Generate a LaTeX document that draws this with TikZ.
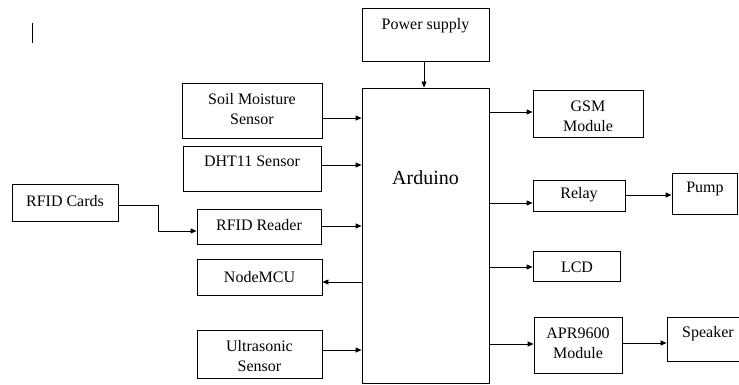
\documentclass[tikz,border=0pt]{standalone}
\usepackage{fontspec}
\setmainfont{Liberation Serif}
\usetikzlibrary{arrows.meta}
\begin{document}
\begin{tikzpicture}[x=1pt,y=-1pt,
  box/.style={draw, line width=0.8pt, inner sep=0pt},
  txt/.style={font=\fontsize{16}{20}\selectfont, align=center, inner sep=0pt},
  arr/.style={draw, line width=0.8pt, -{Triangle[length=6pt,width=5pt]}}]
\useasboundingbox (0,0) rectangle (739,385);
% boxes
\node[box, minimum width=127pt, minimum height=53pt]  (ps)     at (425.5,34.5) {};
\node[box, minimum width=127pt, minimum height=295pt] (ard)    at (425.5,235.5) {};
\node[box, minimum width=140pt, minimum height=55pt]  (soil)   at (252,110.5) {};
\node[box, minimum width=138pt, minimum height=45pt]  (dht)    at (252,168.5) {};
\node[box, minimum width=106pt, minimum height=37pt]  (cards)  at (65,202.5) {};
\node[box, minimum width=124pt, minimum height=35pt]  (reader) at (259,226.5) {};
\node[box, minimum width=125pt, minimum height=36pt]  (nmcu)   at (259.5,277) {};
\node[box, minimum width=125pt, minimum height=48pt]  (ultra)  at (259.5,354) {};
\node[box, minimum width=110pt, minimum height=47pt]  (gsm)    at (588,113.5) {};
\node[box, minimum width=92pt,  minimum height=31pt]  (relay)  at (579,195.5) {};
\node[box, minimum width=65pt,  minimum height=41pt]  (pump)   at (704.5,193.5) {};
\node[box, minimum width=87pt,  minimum height=30pt]  (lcd)    at (576.5,266) {};
\node[box, minimum width=88pt,  minimum height=56pt]  (apr)    at (578,345) {};
\node[box, minimum width=74pt,  minimum height=44pt]  (spk)    at (704,339) {};
% texts
\node[txt] (tps)     at (425.5,26) {Power supply};
\node[txt, font=\fontsize{20}{24}\selectfont] (tard) at (425.5,178) {Arduino};
\node[txt] (tsoil)   at (252,109) {Soil Moisture\\Sensor};
\node[txt] (tdht)    at (252,161) {DHT11 Sensor};
\node[txt] (tcards)  at (65,201) {RFID Cards};
\node[txt] (treader) at (259,225) {RFID Reader};
\node[txt] (tnmcu)   at (259.5,277) {NodeMCU};
\node[txt] (tultra)  at (259.5,356) {Ultrasonic\\Sensor};
\node[txt] (tgsm)    at (588,116) {GSM\\Module};
\node[txt] (trelay)  at (579,195) {Relay};
\node[txt] (tpump)   at (705,189) {Pump};
\node[txt] (tlcd)    at (577,267) {LCD};
\node[txt] (tapr)    at (578,343) {APR9600\\Module};
\node[txt] (tspk)    at (708,334) {Speaker};
% cursor mark
\coordinate (c1) at (32,23);
\coordinate (c2) at (32,43);
\draw[line width=0.8pt] (c1) -- (c2);
% connectors
\draw[arr] (ps.south -| 424,0) -- (ard.north -| 424,0);
\draw[arr] (soil.east |- 0,118) -- (ard.west |- 0,118);
\draw[arr] (dht.east |- 0,165) -- (ard.west |- 0,165);
\draw[arr] (reader.east |- 0,226) -- (ard.west |- 0,226);
\draw[arr] (ard.west |- 0,282) -- (nmcu.east |- 0,282);
\draw[arr] (ultra.east |- 0,350) -- (ard.west |- 0,350);
\coordinate (b1) at (158,205);
\coordinate (b2) at (158,231);
\draw[arr] (cards.east |- b1) -- (b1) -- (b2) -- (reader.west |- b2);
\draw[arr] (ard.east |- 0,112) -- (gsm.west |- 0,112);
\draw[arr] (ard.east |- 0,203) -- (relay.west |- 0,203);
\draw[arr] (relay.east |- 0,195) -- (pump.west |- 0,195);
\draw[arr] (ard.east |- 0,267) -- (lcd.west |- 0,267);
\draw[arr] (ard.east |- 0,344) -- (apr.west |- 0,344);
\draw[arr] (apr.east |- 0,343) -- (spk.west |- 0,343);
\end{tikzpicture}
\end{document}
